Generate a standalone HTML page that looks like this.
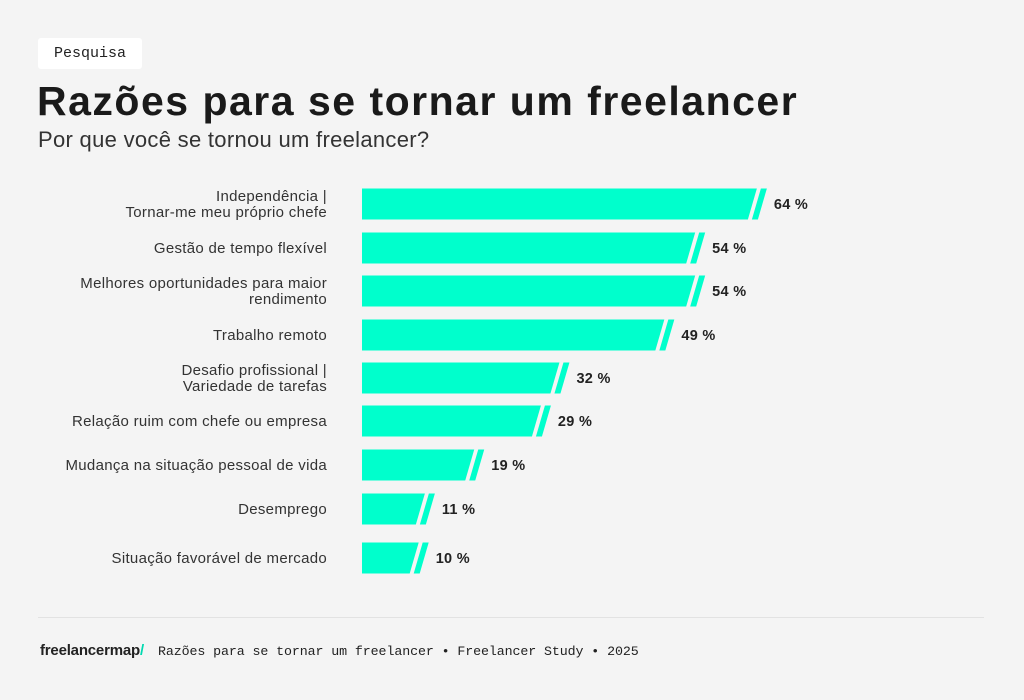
<!DOCTYPE html>
<html><head><meta charset="utf-8"><style>
body{margin:0;background:#f4f4f4;font-family:"Liberation Sans",sans-serif;}
#wrap{position:relative;width:1024px;height:700px;overflow:hidden;background:#f4f4f4;}
.tag{position:absolute;left:38px;top:38px;width:104px;height:31px;background:#fff;border-radius:3px;font-family:"Liberation Mono",monospace;font-size:15px;line-height:31px;text-align:center;color:#222;}
h1{position:absolute;left:37px;top:78px;margin:0;font-size:41px;font-weight:bold;color:#1a1a1a;letter-spacing:1.5px;white-space:nowrap;}
.sub{position:absolute;left:38px;top:127px;font-size:22px;color:#333;letter-spacing:0.3px;}
.foot{position:absolute;left:40px;top:642px;font-size:15px;color:#222;white-space:nowrap;}
.foot .logo{font-weight:bold;letter-spacing:-0.2px;}
.foot .mono{font-family:"Liberation Mono",monospace;font-size:13.3px;margin-left:14px;letter-spacing:-0.1px;}
.rule{position:absolute;left:38px;top:617px;width:946px;height:1px;background:#e2e2e2;}
</style></head><body>
<div id="wrap">
<div class="tag">Pesquisa</div>
<h1>Razões para se tornar um freelancer</h1>
<div class="sub">Por que você se tornou um freelancer?</div>
<svg id="chart" width="1024" height="700" style="position:absolute;left:0;top:0"></svg>
<div class="rule"></div>
<div class="foot"><span class="logo">freelancermap<span style="color:#00d9b0">/</span></span><span class="mono">Razões para se tornar um freelancer • Freelancer Study • 2025</span></div>
</div>
<script>
const categories=[["Independência |","Tornar-me meu próprio chefe"],["Gestão de tempo flexível"],["Melhores oportunidades para maior","rendimento"],["Trabalho remoto"],["Desafio profissional |","Variedade de tarefas"],["Relação ruim com chefe ou empresa"],["Mudança na situação pessoal de vida"],["Desemprego"],["Situação favorável de mercado"]];
const values=[64,54,54,49,32,29,19,11,10];
const rowCenters=[204,248,291,335,378,421,465,509,558];
const svg=document.getElementById('chart');
const NS='http://www.w3.org/2000/svg';
const x0=362,scale=6.17,bh=31,sl=9;
const xs=v=>x0+v*scale;
values.forEach((v,i)=>{
  const cy=rowCenters[i],t=cy-bh/2,b=cy+bh/2,xe=xs(v)-(v<20?5:0);
  const g=document.createElementNS(NS,'g');
  
  
  const p=document.createElementNS(NS,'polygon');
  p.setAttribute('points',`${x0},${t} ${xe},${t} ${xe-sl},${b} ${x0},${b}`);
  p.setAttribute('fill','#00ffcc');
  
  
  g.appendChild(p);
  const s=document.createElementNS(NS,'polygon');
  s.setAttribute('points',`${xe+4},${t} ${xe+10},${t} ${xe+1},${b} ${xe-5},${b}`);
  s.setAttribute('fill','#00ffcc');
  
  
  g.appendChild(s);
  const tv=document.createElementNS(NS,'text');
  tv.setAttribute('x',xe+17);tv.setAttribute('y',cy+5);
  tv.setAttribute('font-size','14.5');tv.setAttribute('font-weight','bold');tv.setAttribute('fill','#222');
  tv.setAttribute('letter-spacing','0.3');
  tv.setAttribute('font-family','Liberation Sans, sans-serif');
  tv.textContent=v+' %';
  
  
  g.appendChild(tv);
  const lines=categories[i];
  lines.forEach((ln,j)=>{
    const tl=document.createElementNS(NS,'text');
    tl.setAttribute('x',327);
    tl.setAttribute('y',cy+5+(j-(lines.length-1)/2)*16);
    tl.setAttribute('text-anchor','end');tl.setAttribute('font-size','15');tl.setAttribute('fill','#333');
    tl.setAttribute('letter-spacing','0.3');
    tl.setAttribute('font-family','Liberation Sans, sans-serif');
    tl.textContent=ln;
    
    
    g.appendChild(tl);
  });
  svg.appendChild(g);
});
</script>
</body></html>
